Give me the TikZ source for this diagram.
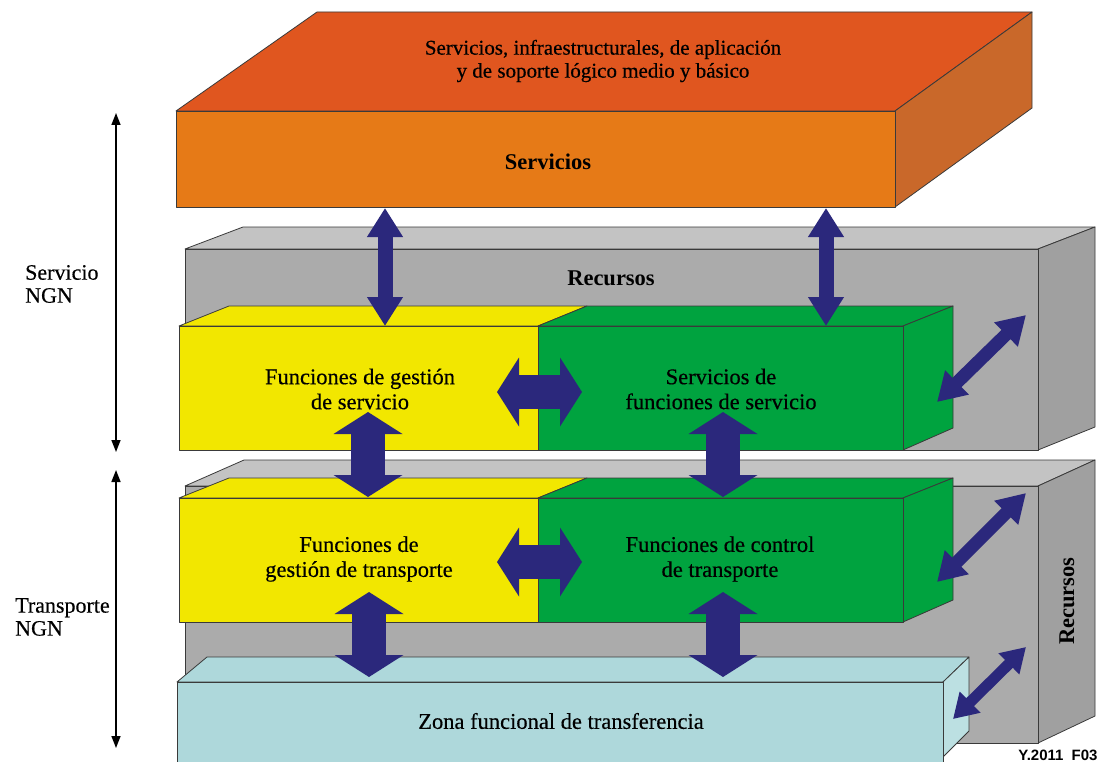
\documentclass[tikz,border=0pt]{standalone}
\usepackage{fontspec}
\setmainfont{Liberation Serif}
\newfontfamily\heavyserif{Liberation Serif}[FakeBold=0.4]
\newfontfamily\labsans{Liberation Sans}
\usetikzlibrary{arrows.meta}
\definecolor{orTop}{HTML}{E0561F}
\definecolor{orFront}{HTML}{E67A17}
\definecolor{orSide}{HTML}{C9682A}
\definecolor{grTop}{HTML}{C3C3C3}
\definecolor{grFront}{HTML}{ABABAB}
\definecolor{grSide}{HTML}{A0A0A0}
\definecolor{yel}{HTML}{F2E700}
\definecolor{grn}{HTML}{00A33F}
\definecolor{cyanF}{HTML}{AED8DB}
\definecolor{cyanS}{HTML}{BCE0E2}
\definecolor{navy}{HTML}{2B287C}
\definecolor{edge}{HTML}{3A3A3A}
\begin{document}
\begin{tikzpicture}[x=1pt,y=-1pt,
  face/.style={draw=edge, line width=0.8pt, line join=round},
  lbl/.style={align=center, font=\heavyserif\fontsize{22.5}{25}\selectfont, text=black, inner sep=0pt},
  boldlbl/.style={align=center, font=\fontsize{22.5}{25}\selectfont\bfseries, text=black, inner sep=0pt},
  toplbl/.style={align=center, font=\heavyserif\fontsize{21}{23}\selectfont, text=black, inner sep=0pt},
  sidelbl/.style={align=left, font=\heavyserif\fontsize{22}{23}\selectfont, text=black, inner sep=0pt, anchor=west},
  thinarr/.style={draw=black, color=black, line width=1.6pt, arrows={Triangle[width=9pt,length=12pt]-Triangle[width=9pt,length=12pt]}},
  slimarr/.style={color=navy, line width=15pt, arrows={Triangle[width=34pt,length=29pt]-Triangle[width=34pt,length=29pt]}},
  fatarr/.style={color=navy, line width=34pt, arrows={Triangle[width=68pt,length=22pt]-Triangle[width=68pt,length=22pt]}},
  diagarr/.style={color=navy, line width=13pt, arrows={Triangle[width=32pt,length=28pt]-Triangle[width=32pt,length=28pt]}},
  diagarrsm/.style={color=navy, line width=11pt, arrows={Triangle[width=28pt,length=24pt]-Triangle[width=28pt,length=24pt]}}
]
\useasboundingbox (0,0) rectangle (1108,762);
\fill[white] (0,0) rectangle (1108,762);
\clip (0,0) rectangle (1108,762);

% ---------- orange box ----------
\filldraw[face, fill=orTop] (176,111) -- (317,12) -- (1032,12) -- (895,111) -- cycle;
\filldraw[face, fill=orSide] (895,111) -- (1032,12) -- (1032,108) -- (895,207) -- cycle;
\filldraw[face, fill=orFront] (176,111) rectangle (895,207);

% ---------- upper gray box ----------
\filldraw[face, fill=grTop] (185,249) -- (243,227) -- (1095,227) -- (1038,249) -- cycle;
\filldraw[face, fill=grSide] (1038,249) -- (1095,227) -- (1095,427) -- (1038,450) -- cycle;
\filldraw[face, fill=grFront] (185,249) rectangle (1038,450);

% ---------- service layer ----------
\filldraw[face, fill=yel] (179,326) -- (229,306) -- (587,306) -- (538,326) -- cycle;
\filldraw[face, fill=grn] (538,326) -- (587,306) -- (953,306) -- (903,326) -- cycle;
\filldraw[face, fill=grn] (903,326) -- (953,306) -- (953,428) -- (903,450) -- cycle;
\filldraw[face, fill=yel] (179,326) rectangle (538,450);
\filldraw[face, fill=grn] (538,326) rectangle (903,450);

% ---------- lower gray box ----------
\filldraw[face, fill=grTop] (185,486) -- (244,460) -- (1095,460) -- (1038,486) -- cycle;
\filldraw[face, fill=grSide] (1038,486) -- (1095,460) -- (1095,716) -- (1038,743) -- cycle;
\filldraw[face, fill=grFront] (185,486) rectangle (1038,743);

% ---------- transport layer ----------
\filldraw[face, fill=yel] (179,498) -- (229,478) -- (587,478) -- (538,498) -- cycle;
\filldraw[face, fill=grn] (538,498) -- (587,478) -- (953,478) -- (903,498) -- cycle;
\filldraw[face, fill=grn] (903,498) -- (953,478) -- (953,600) -- (903,622) -- cycle;
\filldraw[face, fill=yel] (179,498) rectangle (538,622);
\filldraw[face, fill=grn] (538,498) rectangle (903,622);

% ---------- cyan box ----------
\filldraw[face, fill=cyanF] (177,682) -- (207,657) -- (969,657) -- (943,682) -- cycle;
\filldraw[face, fill=cyanS] (943,682) -- (969,657) -- (969,731) -- (943,757) -- cycle;
\filldraw[face, fill=cyanF] (177,682) rectangle (943,766);

% ---------- texts ----------
\node[toplbl] (tServInfra) at (603,61) {Servicios, infraestructurales, de aplicación\\y de soporte lógico medio y básico};
\node[boldlbl] (tServicios) at (548,162) {Servicios};
\node[boldlbl] (tRecursosA) at (611,278) {Recursos};
\node[lbl] (tGestServ) at (360,389) {Funciones de gestión\\de servicio};
\node[lbl] (tServFun) at (721,389) {Servicios de\\funciones de servicio};
\node[lbl] (tGestTr) at (359,559) {Funciones de\\gestión de transporte};
\node[lbl] (tCtrlTr) at (720,559) {Funciones de control\\de transporte};
\node[lbl] (tZona) at (561,721) {Zona funcional de transferencia};
\node[boldlbl, rotate=90] (tRecursosB) at (1067,601) {Recursos};
\node[inner sep=0pt, font=\labsans\fontsize{15}{15}\selectfont\bfseries] (tFig) at (1058,755) {Y.2011\hspace{0.55em}F03};
\node[sidelbl] (tServNGN) at (25,284) {Servicio\\NGN};
\node[sidelbl] (tTransNGN) at (15,617) {Transporte\\NGN};

% ---------- connector end points ----------
\coordinate (lA1) at (116,113); \coordinate (lA2) at (116,452);
\coordinate (lB1) at (116,470); \coordinate (lB2) at (116,748);
\coordinate (o1) at (385,208); \coordinate (y1) at (385,326);
\coordinate (o2) at (826,208); \coordinate (g1) at (826,326);
\coordinate (ys1) at (368,412); \coordinate (yt1) at (368,497);
\coordinate (gs1) at (723,412); \coordinate (gt1) at (723,497);
\coordinate (yt2) at (369,592); \coordinate (c1) at (369,677);
\coordinate (gt2) at (723,592); \coordinate (c2) at (723,677);
\coordinate (hs1) at (497,392); \coordinate (hs2) at (582,392);
\coordinate (ht1) at (497,562); \coordinate (ht2) at (582,562);
\coordinate (ds1) at (937,402); \coordinate (ds2) at (1026,315);
\coordinate (dt1) at (937,582); \coordinate (dt2) at (1026,493);
\coordinate (dc1) at (953,719); \coordinate (dc2) at (1026,647);

% ---------- arrows ----------
\draw[thinarr] (lA1) -- (lA2);
\draw[thinarr] (lB1) -- (lB2);
\draw[slimarr] (o1) -- (y1);
\draw[slimarr] (o2) -- (g1);
\draw[fatarr] (ys1) -- (yt1);
\draw[fatarr] (gs1) -- (gt1);
\draw[fatarr] (yt2) -- (c1);
\draw[fatarr] (gt2) -- (c2);
\draw[fatarr] (hs1) -- (hs2);
\draw[fatarr] (ht1) -- (ht2);
\draw[diagarr] (ds1) -- (ds2);
\draw[diagarr] (dt1) -- (dt2);
\draw[diagarrsm] (dc1) -- (dc2);
\end{tikzpicture}
\end{document}
